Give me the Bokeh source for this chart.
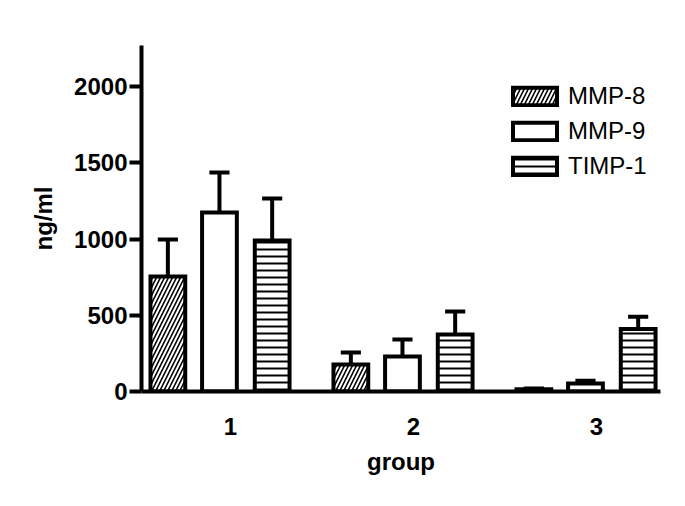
from bokeh.plotting import figure
from bokeh.models import ColumnDataSource, FixedTicker, Legend, LegendItem
from bokeh.embed import file_html
from bokeh.resources import INLINE

groups = [1, 2, 3]
group_labels = ["1", "2", "3"]
series = ["MMP-8", "MMP-9", "TIMP-1"]
mmp8 = [754, 177, 15]
mmp8_upper = [997, 256, 20]
mmp9 = [1174, 230, 52]
mmp9_upper = [1436, 341, 70]
timp1 = [990, 374, 410]
timp1_upper = [1266, 525, 490]
y_ticks = [0, 500, 1000, 1500, 2000]

offsets = [-0.342, -0.06, 0.228]
bar_w = 0.19
cap_half = 0.055
hatches = ["/", " ", "-"]
hatch_scales = [8, 12, 7]
hatch_weights = [1.6, 1, 2]

FONT = "Liberation Sans"

p = figure(width=669, height=490, output_backend="svg", toolbar_location=None,
           x_range=(0.514, 3.35), y_range=(0, 2270),
           min_border_left=141, min_border_top=45, min_border_bottom=99,
           min_border_right=9)
p.outline_line_color = None
p.grid.visible = False
p.background_fill_color = "white"

means = [mmp8, mmp9, timp1]
uppers = [mmp8_upper, mmp9_upper, timp1_upper]
renderers = []
for i, name in enumerate(series):
    xs = [g + offsets[i] for g in groups]
    src = ColumnDataSource(dict(x=xs, top=means[i], up=uppers[i],
                                x0=[x - cap_half for x in xs],
                                x1=[x + cap_half for x in xs]))
    p.segment(x0="x", y0="top", x1="x", y1="up", source=src,
              line_color="black", line_width=4)
    p.segment(x0="x0", y0="up", x1="x1", y1="up", source=src,
              line_color="black", line_width=4)
    r = p.vbar(x="x", top="top", bottom=0, width=bar_w, source=src,
               fill_color="white", line_color="black", line_width=4,
               line_join="miter",
               hatch_pattern=hatches[i], hatch_color="black",
               hatch_scale=hatch_scales[i], hatch_weight=hatch_weights[i])
    renderers.append(r)

legend = Legend(items=[LegendItem(label=series[i], renderers=[renderers[i]]) for i in range(3)],
                location=(366, 211), padding=0, margin=0, spacing=7,
                glyph_width=55, glyph_height=22, label_height=22,
                label_standoff=6, border_line_color=None,
                background_fill_alpha=0,
                label_text_font=FONT, label_text_font_size="24px",
                label_text_color="black")
p.add_layout(legend, "center")

# y axis
ya = p.yaxis[0]
ya.ticker = FixedTicker(ticks=y_ticks)
ya.axis_line_width = 4
ya.axis_line_color = "black"
ya.major_tick_line_width = 4
ya.major_tick_out = 12
ya.major_tick_in = 0
ya.minor_tick_line_color = None
ya.major_label_text_font = FONT
ya.major_label_text_font_style = "bold"
ya.major_label_text_font_size = "24px"
ya.major_label_text_color = "black"
ya.major_label_standoff = 2
ya.axis_label = "ng/ml"
ya.axis_label_text_font = FONT
ya.axis_label_text_font_style = "bold"
ya.axis_label_text_font_size = "24px"
ya.axis_label_text_color = "black"
ya.axis_label_standoff = 14

# x axis
xa = p.xaxis[0]
xa.ticker = FixedTicker(ticks=groups)
xa.major_label_overrides = {g: l for g, l in zip(groups, group_labels)}
xa.axis_line_width = 4
xa.axis_line_color = "black"
xa.major_tick_line_color = None
xa.major_tick_out = 0
xa.major_tick_in = 0
xa.minor_tick_line_color = None
xa.major_label_text_font = FONT
xa.major_label_text_font_style = "bold"
xa.major_label_text_font_size = "24px"
xa.major_label_text_color = "black"
xa.major_label_standoff = 26
xa.axis_label = "group"
xa.axis_label_text_font = FONT
xa.axis_label_text_font_style = "bold"
xa.axis_label_text_font_size = "24px"
xa.axis_label_text_color = "black"
xa.axis_label_standoff = 10

open("out.html", "w").write(file_html(p, INLINE))
